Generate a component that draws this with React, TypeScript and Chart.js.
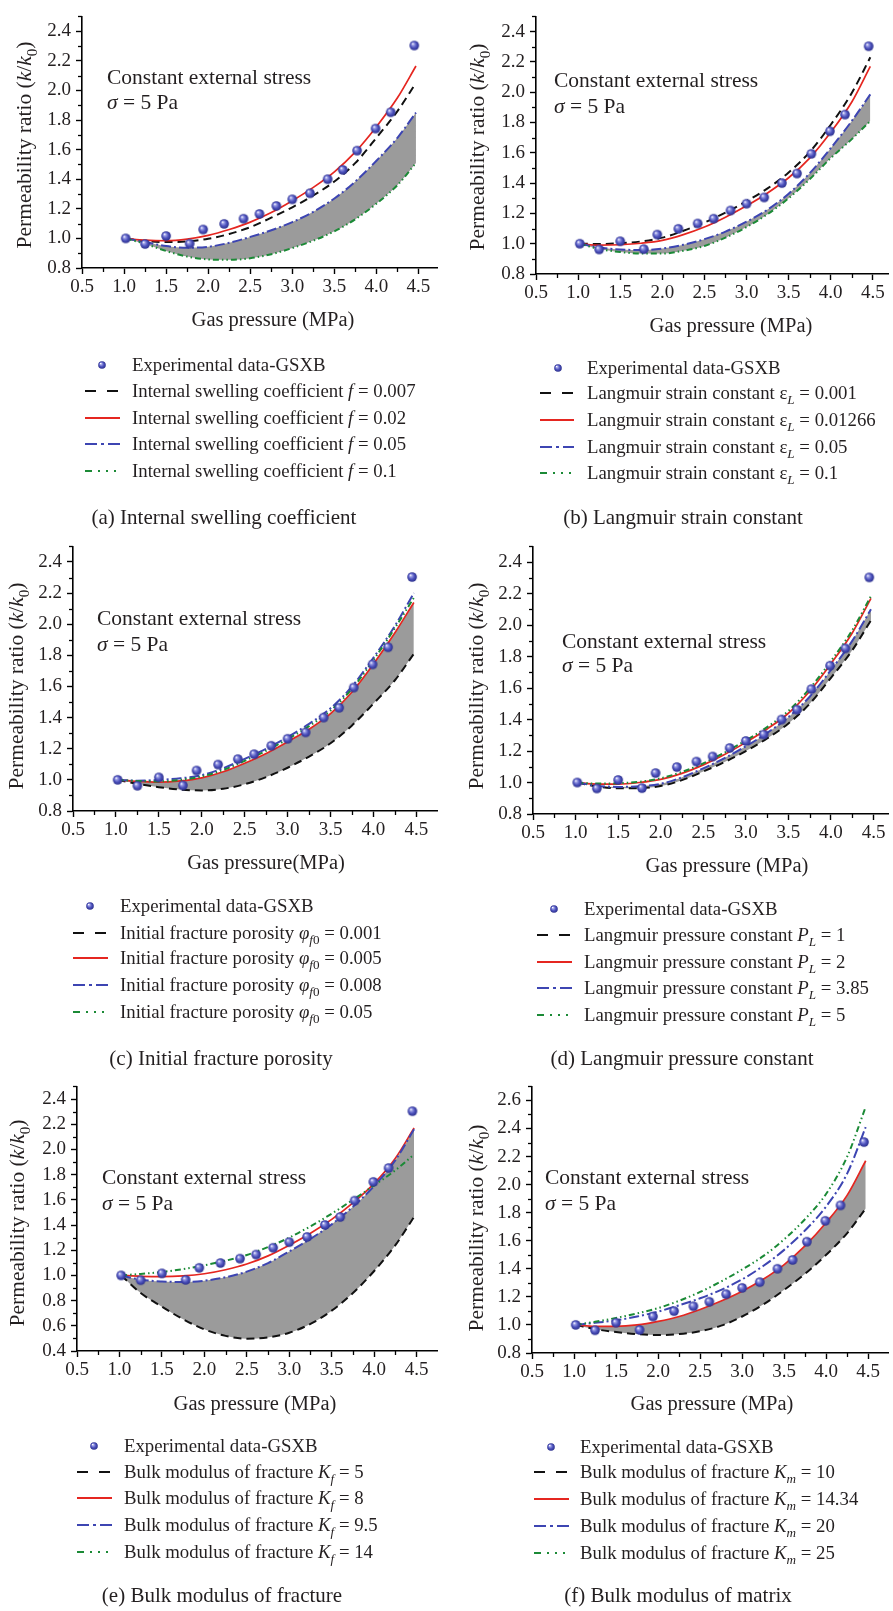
import React, { useEffect, useRef } from 'react';
import { Chart, registerables } from 'chart.js';
Chart.register(...registerables);

// ---------------- data ----------------
const EXP_X = [1.02, 1.25, 1.5, 1.78, 1.94, 2.19, 2.42, 2.61, 2.81, 3.0, 3.21, 3.42, 3.6, 3.77, 3.99, 4.17, 4.45];
const EXP_Y = [1.0, 0.962, 1.016, 0.964, 1.06, 1.098, 1.133, 1.165, 1.219, 1.264, 1.305, 1.4, 1.463, 1.593, 1.742, 1.852, 2.303];
const CURVE_X = [1.02, 1.25, 1.5, 1.75, 2.0, 2.25, 2.5, 2.75, 3.0, 3.25, 3.5, 3.75, 4.0, 4.25, 4.47];

const A_BLACK = [1.0, 0.982, 0.975, 0.98, 0.997, 1.03, 1.076, 1.14, 1.21, 1.29, 1.385, 1.51, 1.68, 1.86, 2.05];
const A_RED = [1.0, 0.988, 0.984, 0.995, 1.02, 1.06, 1.11, 1.175, 1.255, 1.345, 1.45, 1.585, 1.755, 1.95, 2.165];
const A_BLUE = [1.0, 0.975, 0.948, 0.937, 0.943, 0.97, 1.01, 1.055, 1.11, 1.18, 1.27, 1.385, 1.525, 1.68, 1.85];
const A_GREEN = [1.0, 0.963, 0.915, 0.877, 0.858, 0.855, 0.866, 0.893, 0.935, 0.985, 1.048, 1.13, 1.235, 1.36, 1.51];

const B_BLACK = [1.0, 0.998, 1.003, 1.015, 1.04, 1.085, 1.14, 1.205, 1.28, 1.365, 1.47, 1.605, 1.785, 1.995, 2.23];
const B_RED = [1.0, 0.99, 0.993, 1.003, 1.022, 1.06, 1.11, 1.175, 1.25, 1.335, 1.435, 1.565, 1.735, 1.935, 2.17];
const B_BLUE = [1.0, 0.975, 0.962, 0.958, 0.968, 0.993, 1.03, 1.08, 1.145, 1.225, 1.33, 1.465, 1.63, 1.81, 1.985];
const B_GREEN = [1.0, 0.965, 0.945, 0.935, 0.935, 0.953, 0.985, 1.04, 1.11, 1.195, 1.3, 1.425, 1.565, 1.69, 1.81];

const C_BLACK = [1.0, 0.975, 0.953, 0.938, 0.932, 0.943, 0.972, 1.018, 1.078, 1.15, 1.235, 1.35, 1.49, 1.64, 1.81];
const C_RED = [1.0, 0.99, 0.985, 0.993, 1.013, 1.052, 1.107, 1.17, 1.245, 1.325, 1.425, 1.565, 1.745, 1.945, 2.14];
const C_BLUE = [1.0, 0.995, 1.0, 1.01, 1.03, 1.075, 1.135, 1.2, 1.275, 1.36, 1.46, 1.6, 1.785, 1.99, 2.2];
const C_GREEN = [1.0, 0.993, 0.99, 1.0, 1.022, 1.064, 1.122, 1.187, 1.262, 1.345, 1.445, 1.585, 1.77, 1.975, 2.17];

const D_BLACK = [1.0, 0.975, 0.964, 0.964, 0.978, 1.015, 1.07, 1.13, 1.2, 1.28, 1.375, 1.5, 1.665, 1.84, 2.03];
const D_RED = [1.0, 0.99, 0.99, 1.0, 1.02, 1.058, 1.112, 1.178, 1.255, 1.34, 1.44, 1.58, 1.755, 1.95, 2.17];
const D_BLUE = [1.0, 0.98, 0.972, 0.976, 0.992, 1.033, 1.09, 1.155, 1.23, 1.315, 1.415, 1.545, 1.715, 1.9, 2.1];
const D_GREEN = [1.0, 0.993, 0.995, 1.005, 1.027, 1.067, 1.122, 1.19, 1.267, 1.352, 1.455, 1.597, 1.772, 1.968, 2.185];

const E_BLACK = [1.0, 0.86, 0.752, 0.652, 0.572, 0.52, 0.498, 0.508, 0.545, 0.615, 0.72, 0.86, 1.035, 1.24, 1.465];
const E_RED = [1.0, 0.993, 0.99, 0.996, 1.013, 1.045, 1.09, 1.155, 1.24, 1.335, 1.445, 1.575, 1.73, 1.93, 2.17];
const E_BLUE = [1.0, 0.966, 0.952, 0.948, 0.958, 0.985, 1.03, 1.098, 1.19, 1.29, 1.405, 1.545, 1.71, 1.915, 2.16];
const E_GREEN = [1.0, 1.012, 1.027, 1.05, 1.08, 1.117, 1.162, 1.225, 1.3, 1.39, 1.49, 1.6, 1.715, 1.835, 1.96];

const F_BLACK = [1.0, 0.97, 0.95, 0.935, 0.928, 0.935, 0.955, 0.995, 1.06, 1.145, 1.25, 1.365, 1.5, 1.655, 1.83];
const F_RED = [1.0, 0.99, 0.99, 1.0, 1.025, 1.06, 1.11, 1.17, 1.24, 1.325, 1.43, 1.565, 1.73, 1.925, 2.17];
const F_BLUE = [1.0, 1.015, 1.033, 1.06, 1.095, 1.14, 1.19, 1.25, 1.325, 1.42, 1.535, 1.675, 1.845, 2.08, 2.41];
const F_GREEN = [1.0, 1.022, 1.05, 1.082, 1.12, 1.172, 1.235, 1.31, 1.395, 1.49, 1.61, 1.755, 1.935, 2.2, 2.555];

const X_TICKS = [0.5, 1.0, 1.5, 2.0, 2.5, 3.0, 3.5, 4.0, 4.5];
const Y_TICKS_STD = [0.8, 1.0, 1.2, 1.4, 1.6, 1.8, 2.0, 2.2, 2.4];
const Y_TICKS_E = [0.4, 0.6, 0.8, 1.0, 1.2, 1.4, 1.6, 1.8, 2.0, 2.2, 2.4];
const Y_TICKS_F = [0.8, 1.0, 1.2, 1.4, 1.6, 1.8, 2.0, 2.2, 2.4, 2.6];

const VALS_A = ['0.007', '0.02', '0.05', '0.1'];
const VALS_B = ['0.001', '0.01266', '0.05', '0.1'];
const VALS_C = ['0.001', '0.005', '0.008', '0.05'];
const VALS_D = ['1', '2', '3.85', '5'];
const VALS_E = ['5', '8', '9.5', '14'];
const VALS_F = ['10', '14.34', '20', '25'];

// ---------------- style ----------------
const FONT = '"Liberation Serif", "Times New Roman", serif';
Chart.defaults.font.family = FONT;
const TXT = '#231f20';
const COL_BLACK = '#111111';
const COL_RED = '#e52620';
const COL_BLUE = '#3d45b2';
const COL_GREEN = '#1b8a36';
const GRAY = '#9b9b9b';
const TICK_SIZE = 19;
const TITLE_SIZE = 20.5;
const YTITLE_SIZE = 21.5;
const NOTE_SIZE = 21.5;
const LEG_SIZE = 18.8;
const CAP_SIZE = 21;

type Seg = { t: string; i?: boolean; sub?: boolean };

function segFont(size: number, s: Seg) {
  const sz = s.sub ? size * 0.7 : size;
  return `${s.i ? 'italic ' : ''}${sz}px ${FONT}`;
}
function measureRich(ctx: CanvasRenderingContext2D, segs: Seg[], size: number) {
  let w = 0;
  for (const s of segs) {
    ctx.font = segFont(size, s);
    w += ctx.measureText(s.t).width;
  }
  return w;
}
function drawRich(ctx: CanvasRenderingContext2D, x: number, baseline: number, segs: Seg[], size: number, center = false) {
  const w = measureRich(ctx, segs, size);
  let cx = center ? x - w / 2 : x;
  ctx.textAlign = 'left';
  ctx.textBaseline = 'alphabetic';
  ctx.fillStyle = TXT;
  for (const s of segs) {
    ctx.font = segFont(size, s);
    ctx.fillText(s.t, cx, s.sub ? baseline + size * 0.26 : baseline);
    cx += ctx.measureText(s.t).width;
  }
}

const ballCache: Record<string, HTMLCanvasElement> = {};
function makeBall(r: number) {
  const key = String(r);
  if (ballCache[key]) return ballCache[key];
  const c = document.createElement('canvas');
  const s = Math.ceil(r * 2) + 2;
  c.width = s;
  c.height = s;
  const g = c.getContext('2d')!;
  const cx = s / 2, cy = s / 2;
  const grad = g.createRadialGradient(cx - r * 0.35, cy - r * 0.4, r * 0.05, cx, cy, r);
  grad.addColorStop(0, '#ffffff');
  grad.addColorStop(0.22, '#9da0e6');
  grad.addColorStop(0.6, '#4d52bd');
  grad.addColorStop(1, '#2b2f8c');
  g.fillStyle = grad;
  g.beginPath();
  g.arc(cx, cy, r, 0, Math.PI * 2);
  g.fill();
  ballCache[key] = c;
  return c;
}

const SERIES_STYLE = [
  { color: COL_BLACK, width: 2, dash: [8, 5], legDash: [11, 11] },
  { color: COL_RED, width: 1.7, dash: [], legDash: [] },
  { color: COL_BLUE, width: 2, dash: [10, 3, 2, 3], legDash: [12, 4, 3, 4, 12] },
  { color: COL_GREEN, width: 2, dash: [6, 3, 1.5, 3, 1.5, 3], legDash: [7, 6, 2, 6, 2, 6, 2] },
];

type Panel = {
  left: number; top: number; w: number; h: number;
  plot: { l: number; t: number; r: number; b: number };
  xMax: number; yMin: number; yMax: number; yTicks: number[];
  series: number[][]; fillFrom: number; fillTo: number;
  yTitle: [number, number]; xTitle: [number, number]; xTitleText: string;
  note: [number, number, number];
  leg: { mx: number; my: number; lx1: number; lx2: number; tx: number; rows: number[] };
  label: (v: string) => Seg[];
  vals: string[];
  caption: string; cap: [number, number];
};

const PANELS: Panel[] = [
  {
    left: 0, top: 0, w: 445, h: 530, plot: { l: 82, t: 6, r: 437, b: 268 },
    xMax: 4.72, yMin: 0.8, yMax: 2.5, yTicks: Y_TICKS_STD,
    series: [A_BLACK, A_RED, A_BLUE, A_GREEN], fillFrom: 4, fillTo: 3,
    yTitle: [25, 145], xTitle: [273, 319], xTitleText: 'Gas pressure (MPa)',
    note: [107, 77, 102],
    leg: { mx: 102, my: 365, lx1: 85, lx2: 120, tx: 132, rows: [391, 418, 444, 471] },
    label: (v) => [{ t: 'Internal swelling coefficient ' }, { t: 'f', i: true }, { t: ' = ' + v }],
    vals: VALS_A, caption: '(a) Internal swelling coefficient', cap: [224, 517],
  },
  {
    left: 445, top: 0, w: 448, h: 530, plot: { l: 91, t: 6, r: 448, b: 274 },
    xMax: 4.68, yMin: 0.8, yMax: 2.5, yTicks: Y_TICKS_STD,
    series: [B_BLACK, B_RED, B_BLUE, B_GREEN], fillFrom: 4, fillTo: 3,
    yTitle: [33, 147], xTitle: [286, 325], xTitleText: 'Gas pressure (MPa)',
    note: [109, 80, 106],
    leg: { mx: 113, my: 368, lx1: 95, lx2: 129, tx: 142, rows: [393, 420, 447, 473] },
    label: (v) => [{ t: 'Langmuir strain constant ' }, { t: 'ε' }, { t: 'L', i: true, sub: true }, { t: ' = ' + v }],
    vals: VALS_B, caption: '(b) Langmuir strain constant', cap: [238, 517],
  },
  {
    left: 0, top: 530, w: 445, h: 540, plot: { l: 73, t: 15, r: 437, b: 281 },
    xMax: 4.74, yMin: 0.8, yMax: 2.5, yTicks: Y_TICKS_STD,
    series: [C_BLACK, C_RED, C_BLUE, C_GREEN], fillFrom: 2, fillTo: 1,
    yTitle: [17, 156], xTitle: [266, 332], xTitleText: 'Gas pressure(MPa)',
    note: [97, 88, 114],
    leg: { mx: 90, my: 376, lx1: 73, lx2: 108, tx: 120, rows: [403, 428, 455, 482] },
    label: (v) => [{ t: 'Initial fracture porosity ' }, { t: 'φ', i: true }, { t: 'f', i: true, sub: true }, { t: '0', sub: true }, { t: ' = ' + v }],
    vals: VALS_C, caption: '(c) Initial fracture porosity', cap: [221, 528],
  },
  {
    left: 445, top: 530, w: 448, h: 540, plot: { l: 88, t: 15, r: 448, b: 284 },
    xMax: 4.67, yMin: 0.8, yMax: 2.5, yTicks: Y_TICKS_STD,
    series: [D_BLACK, D_RED, D_BLUE, D_GREEN], fillFrom: 3, fillTo: 1,
    yTitle: [32, 156], xTitle: [282, 335], xTitleText: 'Gas pressure (MPa)',
    note: [117, 111, 135],
    leg: { mx: 109, my: 379, lx1: 92, lx2: 127, tx: 139, rows: [405, 432, 458, 485] },
    label: (v) => [{ t: 'Langmuir pressure constant ' }, { t: 'P', i: true }, { t: 'L', i: true, sub: true }, { t: ' = ' + v }],
    vals: VALS_D, caption: '(d) Langmuir pressure constant', cap: [237, 528],
  },
  {
    left: 0, top: 1070, w: 445, h: 541, plot: { l: 77, t: 16, r: 437, b: 281 },
    xMax: 4.74, yMin: 0.4, yMax: 2.5, yTicks: Y_TICKS_E,
    series: [E_BLACK, E_RED, E_BLUE, E_GREEN], fillFrom: 3, fillTo: 1,
    yTitle: [18, 153], xTitle: [255, 333], xTitleText: 'Gas pressure (MPa)',
    note: [102, 107, 133],
    leg: { mx: 94, my: 376, lx1: 77, lx2: 112, tx: 124, rows: [402, 428, 455, 482] },
    label: (v) => [{ t: 'Bulk modulus of fracture ' }, { t: 'K', i: true }, { t: 'f', i: true, sub: true }, { t: ' = ' + v }],
    vals: VALS_E, caption: '(e) Bulk modulus of fracture', cap: [222, 525],
  },
  {
    left: 445, top: 1070, w: 448, h: 541, plot: { l: 87, t: 16, r: 447, b: 283 },
    xMax: 4.735, yMin: 0.8, yMax: 2.7, yTicks: Y_TICKS_F,
    series: [F_BLACK, F_RED, F_BLUE, F_GREEN], fillFrom: 2, fillTo: 1,
    yTitle: [32, 158], xTitle: [267, 333], xTitleText: 'Gas pressure (MPa)',
    note: [100, 107, 133],
    leg: { mx: 106, my: 377, lx1: 89, lx2: 124, tx: 135, rows: [402, 429, 456, 483] },
    label: (v) => [{ t: 'Bulk modulus of fracture ' }, { t: 'K', i: true }, { t: 'm', i: true, sub: true }, { t: ' = ' + v }],
    vals: VALS_F, caption: '(f) Bulk modulus of matrix', cap: [233, 525],
  },
];

const X_AXIS_H = 40;

function minorVals(ticks: number[], max: number) {
  const out: number[] = [];
  const step = ticks[1] - ticks[0];
  for (let i = 0; i < ticks.length; i++) {
    const v = ticks[i] + step / 2;
    if (v <= max + 1e-9) out.push(v);
  }
  return out;
}

function buildConfig(p: Panel): any {
  const datasets: any[] = [
    {
      label: 'Experimental data-GSXB',
      data: EXP_X.map((x, i) => ({ x, y: EXP_Y[i] })),
      showLine: false,
      pointStyle: makeBall(4.8),
      pointRadius: 5,
      pointHoverRadius: 5,
      borderWidth: 0,
      order: 0,
    },
  ];
  p.series.forEach((vals, k) => {
    const st = SERIES_STYLE[k];
    const idx = k + 1;
    datasets.push({
      label: 'series' + idx,
      data: CURVE_X.map((x, i) => ({ x, y: vals[i] })),
      borderColor: st.color,
      borderWidth: st.width,
      borderDash: st.dash,
      pointRadius: 0,
      pointHoverRadius: 0,
      cubicInterpolationMode: 'monotone',
      fill: idx === p.fillFrom ? p.fillTo : false,
      backgroundColor: GRAY,
      order: 5 - idx,
    });
  });

  const deco = {
    id: 'deco',
    afterDraw(chart: any) {
      const ctx: CanvasRenderingContext2D = chart.ctx;
      const xs = chart.scales.x, ys = chart.scales.y;
      const ca = chart.chartArea;
      ctx.save();
      // minor ticks
      ctx.strokeStyle = '#000';
      ctx.lineWidth = 1.3;
      ctx.setLineDash([]);
      for (const v of minorVals(X_TICKS, p.xMax)) {
        const px = Math.round(xs.getPixelForValue(v)) + 0.5;
        ctx.beginPath(); ctx.moveTo(px, ca.bottom); ctx.lineTo(px, ca.bottom + 4); ctx.stroke();
      }
      for (const v of minorVals(p.yTicks, p.yMax)) {
        const py = Math.round(ys.getPixelForValue(v)) + 0.5;
        ctx.beginPath(); ctx.moveTo(ca.left, py); ctx.lineTo(ca.left - 4, py); ctx.stroke();
      }
      // x title
      drawRich(ctx, p.xTitle[0], p.xTitle[1] + TITLE_SIZE * 0.33, [{ t: p.xTitleText }], TITLE_SIZE, true);
      // y title
      ctx.save();
      ctx.translate(p.yTitle[0], p.yTitle[1]);
      ctx.rotate(-Math.PI / 2);
      drawRich(ctx, 0, YTITLE_SIZE * 0.3, [
        { t: 'Permeability ratio (' }, { t: 'k', i: true }, { t: '/' }, { t: 'k', i: true }, { t: '0', sub: true }, { t: ')' },
      ], YTITLE_SIZE, true);
      ctx.restore();
      // annotation
      drawRich(ctx, p.note[0], p.note[1] + NOTE_SIZE * 0.33, [{ t: 'Constant external stress' }], NOTE_SIZE);
      drawRich(ctx, p.note[0], p.note[2] + NOTE_SIZE * 0.33, [{ t: 'σ', i: true }, { t: ' = 5 Pa' }], NOTE_SIZE);
      // legend
      const L = p.leg;
      const ball = makeBall(3.8);
      ctx.drawImage(ball, L.mx - ball.width / 2, L.my - ball.height / 2);
      drawRich(ctx, L.tx, L.my + LEG_SIZE * 0.33, [{ t: 'Experimental data-GSXB' }], LEG_SIZE);
      SERIES_STYLE.forEach((st, k) => {
        const y = L.rows[k];
        ctx.strokeStyle = st.color;
        ctx.lineWidth = 2;
        ctx.setLineDash(st.legDash);
        ctx.beginPath(); ctx.moveTo(L.lx1, y); ctx.lineTo(L.lx2, y); ctx.stroke();
        ctx.setLineDash([]);
        drawRich(ctx, L.tx, y + LEG_SIZE * 0.33, p.label(p.vals[k]), LEG_SIZE);
      });
      // caption
      drawRich(ctx, p.cap[0], p.cap[1] + CAP_SIZE * 0.33, [{ t: p.caption }], CAP_SIZE, true);
      ctx.restore();
    },
  };

  const tickFont = { family: FONT, size: TICK_SIZE, style: 'normal' as const, weight: 'normal' as const };

  return {
    type: 'line',
    data: { datasets },
    plugins: [deco],
    options: {
      animation: false,
      responsive: false,
      devicePixelRatio: 1,
      events: [],
      font: { family: FONT },
      layout: {
        padding: { left: 0, top: p.plot.t, right: p.w - p.plot.r, bottom: p.h - p.plot.b - X_AXIS_H },
      },
      plugins: {
        legend: { display: false },
        tooltip: { enabled: false },
        filler: { drawTime: 'beforeDatasetsDraw', propagate: false },
      },
      scales: {
        x: {
          type: 'linear', min: 0.5, max: p.xMax,
          afterBuildTicks: (s: any) => { s.ticks = X_TICKS.map((v) => ({ value: v })); },
          afterFit: (s: any) => { s.height = X_AXIS_H; },
          grid: { drawOnChartArea: false, drawTicks: true, tickLength: 6, tickWidth: 1.4, tickColor: '#000' },
          border: { display: true, color: '#000', width: 1.6 },
          ticks: {
            font: tickFont, color: TXT, padding: 2, maxRotation: 0, autoSkip: false,
            callback: (v: any) => Number(v).toFixed(1),
          },
        },
        y: {
          type: 'linear', min: p.yMin, max: p.yMax,
          afterBuildTicks: (s: any) => { s.ticks = p.yTicks.map((v) => ({ value: v })); },
          afterFit: (s: any) => { s.width = p.plot.l; },
          grid: { drawOnChartArea: false, drawTicks: true, tickLength: 6, tickWidth: 1.4, tickColor: '#000' },
          border: { display: true, color: '#000', width: 1.6 },
          ticks: {
            font: tickFont, color: TXT, padding: 5, autoSkip: false,
            callback: (v: any) => Number(v).toFixed(1),
          },
        },
      },
    },
  };
}

function PanelChart({ p }: { p: Panel }) {
  const ref = useRef<HTMLCanvasElement>(null);
  useEffect(() => {
    const chart = new Chart(ref.current as HTMLCanvasElement, buildConfig(p));
    return () => chart.destroy();
  }, [p]);
  return (
    <canvas
      ref={ref}
      width={p.w}
      height={p.h}
      style={{ position: 'absolute', left: p.left, top: p.top, width: p.w, height: p.h }}
    />
  );
}

export default function App() {
  return (
    <div style={{ position: 'absolute', left: 0, top: 0, width: 893, height: 1611, background: '#fff', overflow: 'hidden' }}>
      {PANELS.map((p, i) => (
        <PanelChart key={i} p={p} />
      ))}
    </div>
  );
}
